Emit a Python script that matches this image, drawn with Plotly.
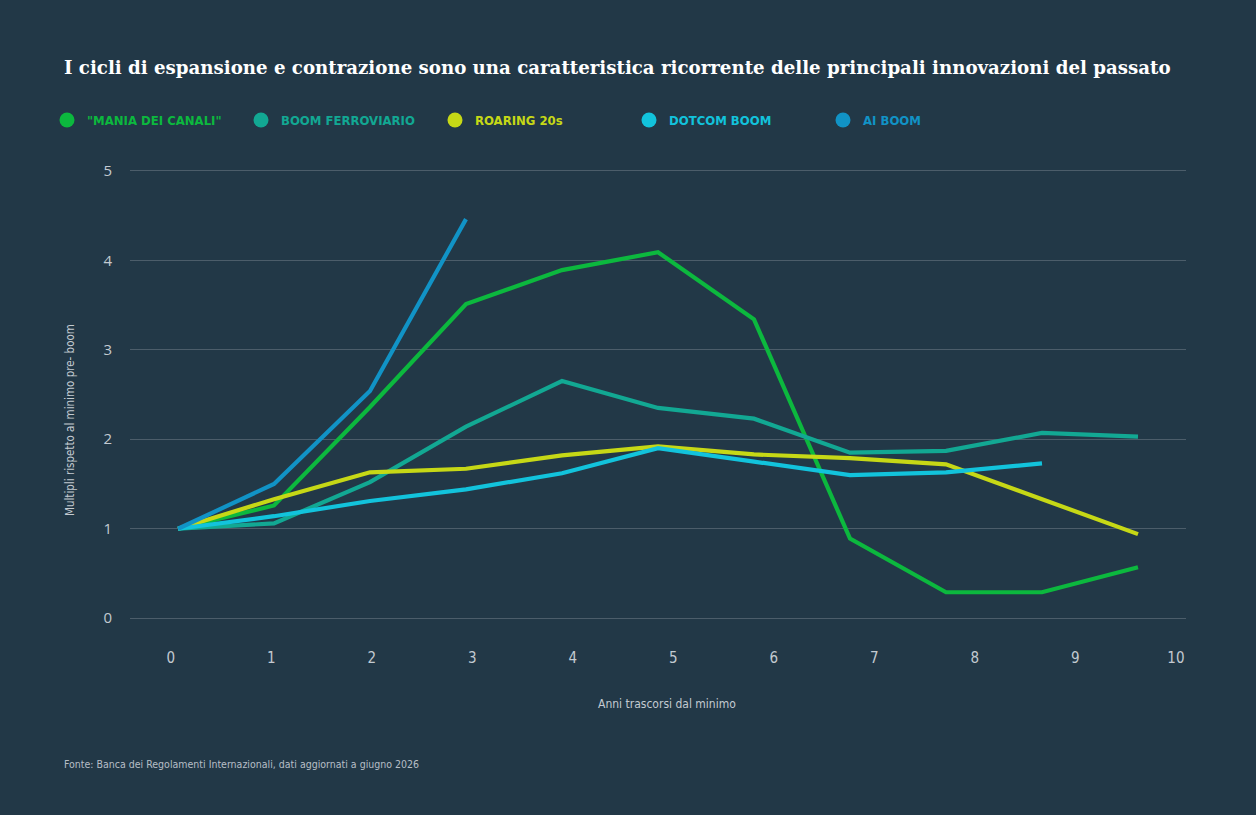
import plotly.graph_objects as go

years = list(range(11))
tick_labels = [str(i) for i in range(11)]

mania = [1.0, 1.26, 2.36, 3.51, 3.89, 4.09, 3.34, 0.89, 0.29, 0.29, 0.57]
ferroviario = [1.0, 1.06, 1.52, 2.14, 2.65, 2.35, 2.23, 1.85, 1.87, 2.07, 2.03]
roaring = [1.0, 1.33, 1.63, 1.67, 1.82, 1.92, 1.83, 1.79, 1.72, 1.33, 0.94]
dotcom = [1.0, 1.14, 1.31, 1.44, 1.62, 1.90, 1.75, 1.60, 1.63, 1.73]
ai = [1.0, 1.50, 2.54, 4.46]

names = ['"MANIA DEI CANALI"', "BOOM FERROVIARIO", "ROARING 20s", "DOTCOM BOOM", "AI BOOM"]
colors = ["#0cb83e", "#12a893", "#c6d816", "#12c3dc", "#1193c6"]
series = [mania, ferroviario, roaring, dotcom, ai]

BG = "#223847"
COND = "DejaVu Sans Condensed, Liberation Sans Narrow, sans-serif"

# plot area in pixels
L, R, T, B = 130, 1186, 169, 620
W, H = 1256, 815


def px(x):
    return (x - L) / (R - L)


def py(y):
    return (B - y) / (B - T)


fig = go.Figure()
for name, col, vals in zip(names, colors, series):
    fig.add_trace(go.Scatter(x=years[:len(vals)], y=vals, mode="lines",
                             line=dict(color=col, width=4.2),
                             showlegend=False, name=name))
for name, col in zip(names, colors):
    fig.add_trace(go.Scatter(x=[None], y=[None], mode="markers",
                             marker=dict(color=col, size=15, symbol="circle"),
                             name=f"<b><span style='color:{col}'>{name}</span></b>",
                             showlegend=True))
# axis carrying the tick labels
fig.add_trace(go.Scatter(x=[0, 10], y=[None, None], xaxis="x2", yaxis="y",
                         mode="markers", showlegend=False, hoverinfo="skip",
                         marker=dict(opacity=0)))

fig.update_layout(
    width=W, height=H,
    paper_bgcolor=BG, plot_bgcolor=BG,
    margin=dict(l=L, r=W - R, t=T, b=H - B),
    xaxis=dict(range=[-0.5, 10.5], showgrid=False, zeroline=False,
               showticklabels=False, showline=False, ticks=""),
    xaxis2=dict(range=[-0.405, 10.1], overlaying="x", side="bottom",
                showgrid=False, zeroline=False, showline=False,
                tickvals=years, ticktext=tick_labels, ticks="outside",
                ticklen=24, tickcolor=BG,
                tickfont=dict(family=COND, size=15, color="#c3cad1")),
    yaxis=dict(range=[-0.02, 5.02], tickvals=[0, 1, 2, 3, 4, 5],
               showgrid=True, gridcolor="#4c5d6a", gridwidth=1,
               zeroline=False, showline=False, ticks="outside",
               ticklen=14, tickcolor=BG,
               tickfont=dict(family="Open Sans, Roboto, sans-serif", size=15, color="#c3cad1")),
    legend=dict(orientation="h", x=px(47), xanchor="left", yref="paper",
                y=py(120), yanchor="middle",
                entrywidth=149, entrywidthmode="pixels",
                font=dict(family=COND, size=13), bgcolor="rgba(0,0,0,0)",
                itemclick=False, itemdoubleclick=False, tracegroupgap=0),
    font=dict(family=COND, color="#c3cad1"),
    showlegend=True,
)

fig.add_annotation(text="<b>I cicli di espansione e contrazione sono una caratteristica ricorrente delle principali innovazioni del passato</b>",
                   xref="paper", yref="paper", x=px(62), y=py(67), xanchor="left", yanchor="middle",
                   showarrow=False,
                   font=dict(family="DejaVu Serif, Georgia, serif", size=18.2, color="#ffffff"))
fig.add_annotation(text="Multipli rispetto al minimo pre- boom", textangle=-90,
                   xref="paper", yref="paper", x=px(70), y=py(420),
                   xanchor="center", yanchor="middle", showarrow=False,
                   font=dict(family=COND, size=11.5, color="#c3cad1"))
fig.add_annotation(text="Anni trascorsi dal minimo",
                   xref="paper", yref="paper", x=px(667), y=py(704),
                   xanchor="center", yanchor="middle", showarrow=False,
                   font=dict(family=COND, size=12, color="#c3cad1"))
fig.add_annotation(text="Fonte: Banca dei Regolamenti Internazionali, dati aggiornati a giugno 2026",
                   xref="paper", yref="paper", x=px(62), y=py(764),
                   xanchor="left", yanchor="middle", showarrow=False,
                   font=dict(family=COND, size=10.5, color="#b6bec6"))

fig.write_html("out.html")
